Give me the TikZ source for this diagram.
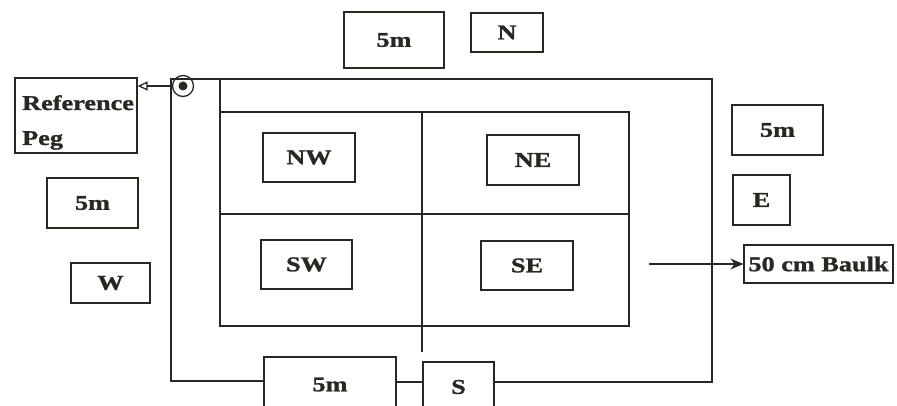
\documentclass[tikz,border=0pt]{standalone}
\usepackage{fontspec}
\newfontfamily\lab[FakeStretch=1.25,FakeBold=1.2]{Liberation Serif Bold}
\usetikzlibrary{arrows.meta}
\definecolor{ink}{RGB}{40,40,35}
\tikzset{
  ln/.style={draw=ink,line width=1.3pt},
  box/.style={ln,rectangle,inner sep=0pt,text=ink,font=\lab\fontsize{21}{24}\selectfont},
  txt/.style={inner sep=0pt,text=ink,font=\lab\fontsize{21}{24}\selectfont}
}
\begin{document}
\begin{tikzpicture}[x=1pt,y=-1pt]
\useasboundingbox (0,0) rectangle (897,406);
\clip (0,0) rectangle (897,406);
\fill[white] (0,0) rectangle (897,406);
% boxes
\node[box,minimum width=100,minimum height=56] (t5m) at (394,40) {5m};
\node[box,minimum width=72,minimum height=39] (n) at (507,32.5) {N};
\node[box,minimum width=91,minimum height=50] (r5m) at (777.5,130) {5m};
\node[box,minimum width=57,minimum height=50] (e) at (761.5,200) {E};
\node[box,minimum width=149,minimum height=38] (baulk) at (818.5,264) {50 cm Baulk};
\node[box,minimum width=91,minimum height=50] (l5m) at (92.5,203) {5m};
\node[box,minimum width=79,minimum height=40] (w) at (110.5,283) {W};
\node[box,minimum width=92,minimum height=49] (nw) at (309,157.5) {NW};
\node[box,minimum width=92,minimum height=50] (ne) at (533,160) {NE};
\node[box,minimum width=91,minimum height=49] (sw) at (306.5,264.5) {SW};
\node[box,minimum width=92,minimum height=49] (se) at (527,265.5) {SE};
\node[box,minimum width=132,minimum height=55] (b5m) at (330,384.5) {5m};
\node[box,minimum width=71,minimum height=50] (s) at (458.5,387) {S};
\node[box,minimum width=122,minimum height=75] (ref) at (76,115.5) {};
\node[txt,anchor=base west] (refa) at (22,110) {Reference};
\node[txt,anchor=base west] (refb) at (22,145) {Peg};
% outer trench
\coordinate (oNW) at (171,79);
\coordinate (oNE) at (712,79);
\coordinate (oSW) at (171,381);
\coordinate (oSE) at (712,382);
\draw[ln] (b5m.west |- oSW) -- (oSW) -- (oNW) -- (oNE) -- (oSE) -- (s.east |- oSE);
\draw[ln] (b5m.east |- 0,382) -- (s.west |- 0,382);
% inner grid
\coordinate (iNW) at (220,112);
\coordinate (iNE) at (629,112);
\coordinate (iSW) at (220,326);
\coordinate (iSE) at (629,326);
\draw[ln] (220,79) -- (iSW) -- (iSE) -- (iNE) -- (iNW);
\coordinate (mt) at (422,112);
\coordinate (mb) at (422,352);
\draw[ln] (mt) -- (mb);
\draw[ln] (220,214) -- (629,214);
% reference peg
\node[ln,circle,minimum size=21,inner sep=0pt] (peg) at (183,86) {};
\fill[ink] (peg.center) circle (4.5);
\draw[ln,-{Triangle[open,length=10pt,width=9pt]}] (peg.west) -- (ref.east |- peg.west);
% baulk arrow
\coordinate (ba) at (649,264);
\draw[ln,-{Stealth[length=13pt,width=11pt]}] (ba) -- (baulk.west);
\end{tikzpicture}
\end{document}
